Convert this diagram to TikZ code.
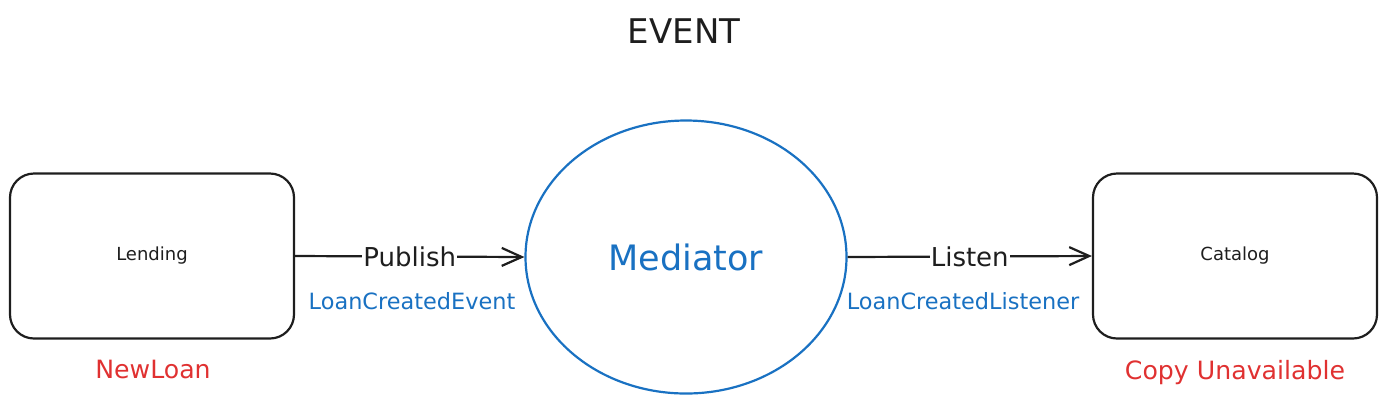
\documentclass[tikz,border=0pt]{standalone}
\usepackage{fontspec}
\setmainfont{DejaVu Sans}
\usetikzlibrary{shapes.geometric,arrows.meta}

\definecolor{inkblack}{HTML}{1E1E1E}
\definecolor{inkblue}{HTML}{1971C2}
\definecolor{inkred}{HTML}{E03131}

\tikzset{
  module/.style={draw=inkblack, line width=1.1pt, rounded corners=12pt,
    minimum width=142pt, minimum height=82.5pt, font=\fontsize{9}{10}\selectfont, text=inkblack},
  hub/.style={ellipse, draw=inkblue, line width=1.1pt, inner sep=0pt,
    minimum width=160.5pt, minimum height=136.5pt, text=inkblue,
    font=\fontsize{17.5}{20}\selectfont},
  link/.style={draw=inkblack, line width=1.1pt, -{Straight Barb[length=10pt, width=9pt, line width=1.1pt]}},
  verb/.style={fill=white, inner sep=0.5pt, text=inkblack, font=\fontsize{13}{15}\selectfont},
  msg/.style={text=inkblue, font=\fontsize{11.2}{12}\selectfont},
  state/.style={text=inkred, font=\fontsize{12.6}{14}\selectfont}
}

\begin{document}
\begin{tikzpicture}[x=0.5pt, y=-0.5pt]
      \useasboundingbox (0, 0) rectangle (1386, 404);

      \node (title) at (684, 31) {\fontsize{17}{19}\selectfont\color{inkblack}EVENT};

      \node[module] (lending) at (152, 256) {Lending};
      \node[module] (catalog) at (1235, 256) {Catalog};
      \node[hub] (mediator) at (686, 257) {Mediator};

      \draw[link] (lending.east) -- node[verb] (publish) {Publish} (mediator.west);
      \draw[link] (mediator.east) -- node[verb] (listen) {Listen} (catalog.west);

      \node[msg] (event) at (412, 301) {LoanCreatedEvent};
      \node[msg] (listener) at (963, 301) {LoanCreatedListener};

      \node[state] (newloan) at (153, 369) {NewLoan};
      \node[state] (unavailable) at (1235, 373) {Copy Unavailable};
    \end{tikzpicture}
\end{document}
